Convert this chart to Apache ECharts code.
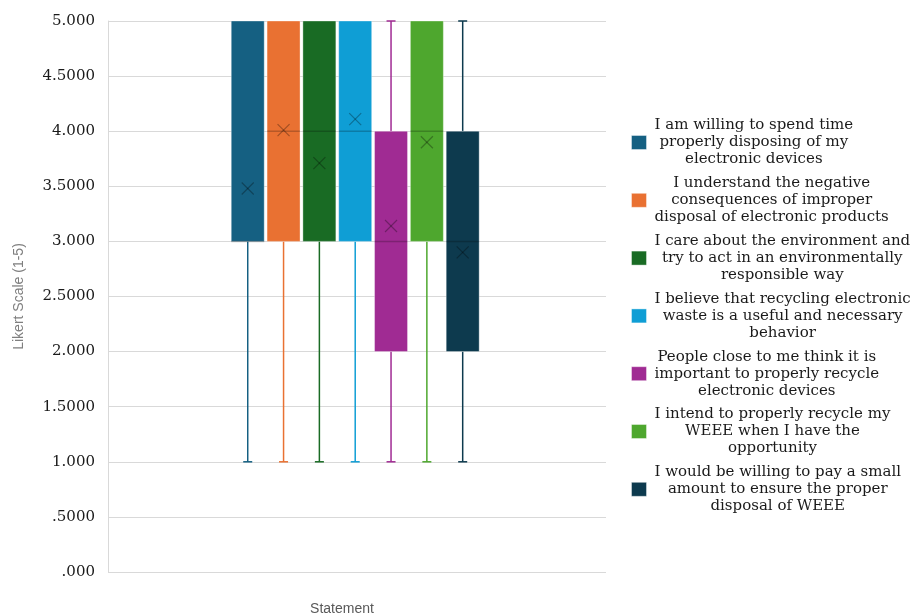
<!DOCTYPE html>
<html>
<head>
<meta charset="utf-8">
<script src="https://cdn.jsdelivr.net/npm/echarts@6/dist/echarts.min.js"></script>
<style>
  html, body { margin: 0; padding: 0; background: #fff; }
  #main { width: 915px; height: 616px; }
</style>
</head>
<body>
<div id="main"></div>
<script>
var statements = [
  'I am willing to spend time properly disposing of my electronic devices',
  'I understand the negative consequences of improper disposal of electronic products',
  'I care about the environment and try to act in an environmentally responsible way',
  'I believe that recycling electronic waste is a useful and necessary behavior',
  'People close to me think it is important to properly recycle electronic devices',
  'I intend to properly recycle my WEEE when I have the opportunity',
  'I would be willing to pay a small amount to ensure the proper disposal of WEEE'
];
// legend wrapping as it appears in the picture
var legendLines = [
  ['I am willing to spend time', 'properly disposing of my', 'electronic devices'],
  ['I understand the negative', 'consequences of improper', 'disposal of electronic products'],
  ['I care about the environment and', 'try to act in an environmentally', 'responsible way'],
  ['I believe that recycling electronic', 'waste is a useful and necessary', 'behavior'],
  ['People close to me think it is', 'important to properly recycle', 'electronic devices'],
  ['I intend to properly recycle my', 'WEEE when I have the', 'opportunity'],
  ['I would be willing to pay a small', 'amount to ensure the proper', 'disposal of WEEE']
];
var mins    = [1, 1, 1, 1, 1, 1, 1];
var q1s     = [3, 3, 3, 3, 2, 3, 2];
var medians = [3, 4, 4, 4, 3, 4, 3];
var q3s     = [5, 5, 5, 5, 4, 5, 4];
var maxs    = [5, 5, 5, 5, 5, 5, 5];
var means   = [3.48, 4.01, 3.71, 4.11, 3.14, 3.90, 2.90];
var colors  = ['#156082', '#E97132', '#196B24', '#0F9ED5', '#A02B93', '#4EA72E', '#0D3A4E'];
var tickLabels = ['.000', '.5000', '1.000', '1.5000', '2.000', '2.5000', '3.000', '3.5000', '4.000', '4.5000', '5.000'];

var chart = echarts.init(document.getElementById('main'));

function renderBox(params, api) {
  var x = api.value(0);
  var pMin = api.coord([x, api.value(1)]);
  var pQ1 = api.coord([x, api.value(2)]);
  var pMed = api.coord([x, api.value(3)]);
  var pQ3 = api.coord([x, api.value(4)]);
  var pMax = api.coord([x, api.value(5)]);
  var pMean = api.coord([x, api.value(6)]);
  var cx = pQ1[0];
  var w = api.size([1, 0])[0] * 0.92;
  var color = api.visual('color');
  var cap = 4.5;
  var kids = [];
  var whisker = { stroke: color, lineWidth: 1.5 };
  if (pMin[1] > pQ1[1] + 0.5) {
    kids.push({ type: 'line', shape: { x1: cx, y1: pQ1[1], x2: cx, y2: pMin[1] }, style: whisker });
    kids.push({ type: 'line', shape: { x1: cx - cap, y1: pMin[1], x2: cx + cap, y2: pMin[1] }, style: whisker });
  }
  if (pMax[1] < pQ3[1] - 0.5) {
    kids.push({ type: 'line', shape: { x1: cx, y1: pQ3[1], x2: cx, y2: pMax[1] }, style: whisker });
    kids.push({ type: 'line', shape: { x1: cx - cap, y1: pMax[1], x2: cx + cap, y2: pMax[1] }, style: whisker });
  }
  kids.push({
    type: 'rect',
    shape: { x: cx - w / 2, y: pQ3[1], width: w, height: pQ1[1] - pQ3[1] },
    style: { fill: color, stroke: 'rgba(255,255,255,0.35)', lineWidth: 1 }
  });
  kids.push({
    type: 'line',
    shape: { x1: cx - w / 2, y1: pMed[1], x2: cx + w / 2, y2: pMed[1] },
    style: { stroke: 'rgba(0,0,0,0.22)', lineWidth: 1.5 }
  });
  var s = 6;
  var xStyle = { stroke: 'rgba(0,0,0,0.3)', lineWidth: 1.2 };
  kids.push({ type: 'line', shape: { x1: cx - s, y1: pMean[1] - s, x2: cx + s, y2: pMean[1] + s }, style: xStyle });
  kids.push({ type: 'line', shape: { x1: cx - s, y1: pMean[1] + s, x2: cx + s, y2: pMean[1] - s }, style: xStyle });
  return { type: 'group', children: kids };
}

var series = statements.map(function (name, i) {
  return {
    name: name,
    type: 'custom',
    renderItem: renderBox,
    itemStyle: { color: colors[i] },
    encode: { x: 0, y: [1, 2, 3, 4, 5, 6] },
    data: [[i + 1, mins[i], q1s[i], medians[i], q3s[i], maxs[i], means[i]]]
  };
});

var option = {
  animation: false,
  textStyle: { fontFamily: 'DejaVu Serif' },
  grid: { left: 108, right: 309, top: 21, bottom: 44, outerBoundsMode: 'none' },
  xAxis: {
    type: 'value',
    min: -2.9,
    max: 11,
    name: 'Statement',
    nameLocation: 'middle',
    nameGap: 30,
    nameTextStyle: { fontFamily: 'Liberation Sans', fontSize: 14, color: '#595959', padding: [0, 30, 0, 0] },
    axisLine: { show: false },
    axisTick: { show: false },
    axisLabel: { show: false },
    splitLine: { show: false }
  },
  yAxis: {
    type: 'value',
    min: 0,
    max: 5,
    interval: 0.5,
    name: 'Likert Scale (1-5)',
    nameLocation: 'middle',
    nameRotate: 90,
    nameGap: 82,
    nameTextStyle: { fontFamily: 'Liberation Sans', fontSize: 14, color: '#7f7f7f' },
    axisLine: { show: true, onZero: false, lineStyle: { color: '#d9d9d9' } },
    axisTick: { show: false },
    axisLabel: {
      margin: 13,
      fontFamily: 'DejaVu Serif',
      fontSize: 15,
      color: '#1a1a1a',
      formatter: function (v) { return tickLabels[Math.round(v * 2)]; }
    },
    splitLine: { lineStyle: { color: '#d9d9d9', width: 1 } }
  },
  legend: {
    orient: 'vertical',
    left: 631,
    top: 118,
    padding: 0,
    itemGap: 8.8,
    itemWidth: 15,
    itemHeight: 14,
    icon: 'rect',
    itemStyle: { borderColor: 'rgba(255,255,255,0.4)', borderWidth: 1 },
    data: statements,
    formatter: function (name) {
      var lines = legendLines[statements.indexOf(name)];
      return lines.map(function (l) { return '{c|' + l + '}'; }).join('\n');
    },
    textStyle: {
      rich: {
        c: { align: 'center', padding: [0, 0, 0, 3], fontFamily: 'DejaVu Serif', fontSize: 15, lineHeight: 17, color: '#1a1a1a' }
      }
    }
  },
  series: series
};
chart.setOption(option);
window.addEventListener('resize', function () {
  chart.resize();
});
</script>
</body>
</html>
